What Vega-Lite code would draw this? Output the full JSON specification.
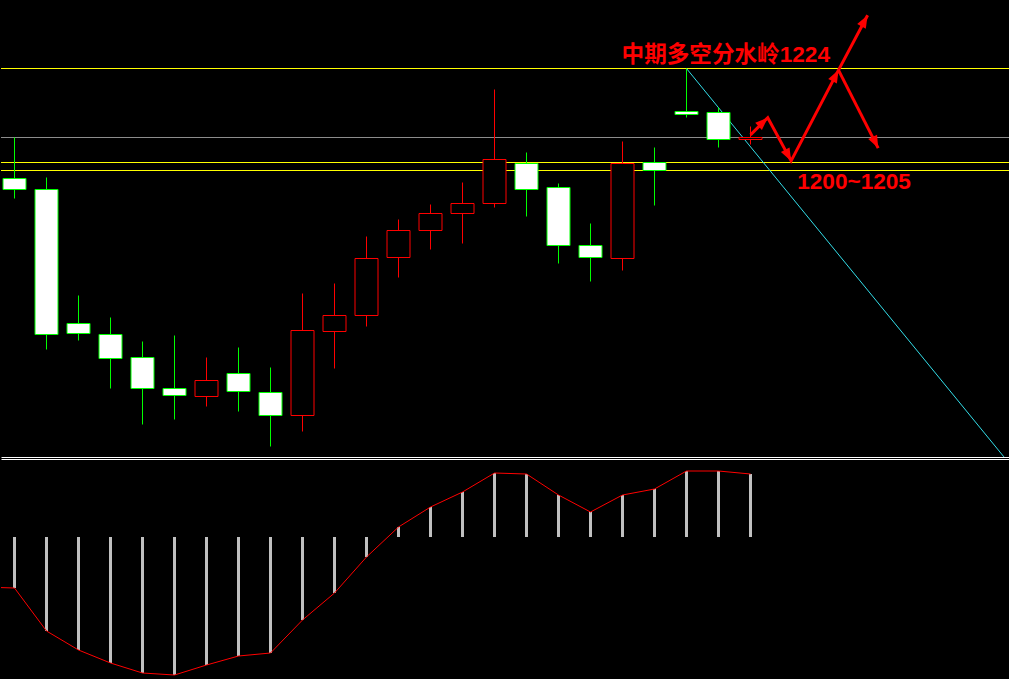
{
  "$schema": "https://vega.github.io/schema/vega-lite/v6.json",
  "background": "#000000",
  "padding": 0,
  "spacing": 2,
  "config": {"view": {"stroke": null}},
  "datasets": {
    "candles": [
      {"t": 0, "open": 1196.5, "high": 1206.75, "low": 1191.5, "close": 1193.75},
      {"t": 1, "open": 1193.75, "high": 1196.75, "low": 1153.75, "close": 1157.5},
      {"t": 2, "open": 1160.25, "high": 1167.25, "low": 1156, "close": 1157.75},
      {"t": 3, "open": 1157.5, "high": 1161.75, "low": 1144, "close": 1151.5},
      {"t": 4, "open": 1151.75, "high": 1155.75, "low": 1135, "close": 1144},
      {"t": 5, "open": 1144, "high": 1157.25, "low": 1136.25, "close": 1142.25},
      {"t": 6, "open": 1142, "high": 1151.75, "low": 1139.5, "close": 1146},
      {"t": 7, "open": 1147.75, "high": 1154.25, "low": 1138.25, "close": 1143.25},
      {"t": 8, "open": 1143, "high": 1149.25, "low": 1129.5, "close": 1137.25},
      {"t": 9, "open": 1137.25, "high": 1167.75, "low": 1133.25, "close": 1158.5},
      {"t": 10, "open": 1158.25, "high": 1170.25, "low": 1149, "close": 1162.25},
      {"t": 11, "open": 1162.25, "high": 1182, "low": 1159.5, "close": 1176.5},
      {"t": 12, "open": 1176.75, "high": 1186.25, "low": 1171.75, "close": 1183.5},
      {"t": 13, "open": 1183.5, "high": 1190, "low": 1178.75, "close": 1187.75},
      {"t": 14, "open": 1187.75, "high": 1195.5, "low": 1180.25, "close": 1190.25},
      {"t": 15, "open": 1190.25, "high": 1218.75, "low": 1189.25, "close": 1201.25},
      {"t": 16, "open": 1200.25, "high": 1203, "low": 1187, "close": 1193.75},
      {"t": 17, "open": 1194.25, "high": 1195.25, "low": 1175.25, "close": 1179.75},
      {"t": 18, "open": 1179.75, "high": 1185.25, "low": 1170.75, "close": 1176.75},
      {"t": 19, "open": 1176.5, "high": 1205.75, "low": 1173.5, "close": 1200.25},
      {"t": 20, "open": 1200.5, "high": 1204.25, "low": 1189.75, "close": 1198.5},
      {"t": 21, "open": 1213.25, "high": 1224, "low": 1211.75, "close": 1212.5},
      {"t": 22, "open": 1213, "high": 1214.25, "low": 1204.25, "close": 1206.25},
      {"t": 23, "open": 1206.25, "high": 1209.5, "low": 1205, "close": 1206.75}
    ],
    "levels": [
      {"price": 1224, "kind": "watershed"},
      {"price": 1206.75, "kind": "last"},
      {"price": 1200.5, "kind": "support"},
      {"price": 1198.5, "kind": "support"}
    ],
    "trend": [
      {"t": 21, "price": 1224},
      {"t": 30.92, "price": 1126.9}
    ],
    "arrow": [
      {"path": "main", "seq": 1, "t": 23.0, "price": 1207.4},
      {"path": "main", "seq": 2, "t": 23.54, "price": 1211.7},
      {"path": "main", "seq": 3, "t": 24.27, "price": 1200.9},
      {"path": "main", "seq": 4, "t": 25.75, "price": 1223.6},
      {"path": "main", "seq": 5, "t": 26.66, "price": 1237.3},
      {"path": "branch", "seq": 1, "t": 25.75, "price": 1223.6},
      {"path": "branch", "seq": 2, "t": 26.99, "price": 1204.1}
    ],
    "heads": [
      {"head": "h1", "t": 23.54, "price": 1211.7},
      {"head": "h2", "t": 24.27, "price": 1200.9},
      {"head": "h5", "t": 25.75, "price": 1223.6},
      {"head": "h3", "t": 26.66, "price": 1237.3},
      {"head": "h4", "t": 26.99, "price": 1204.1}
    ],
    "labels": [
      {"t": 18.97, "price": 1227.5, "text": "中期多空分水岭1224"},
      {"t": 24.46, "price": 1195.6, "text": "1200~1205"}
    ],
    "macd": [
      {"t": -1, "v": -25},
      {"t": 0, "v": -25.5},
      {"t": 1, "v": -47},
      {"t": 2, "v": -56.5},
      {"t": 3, "v": -63},
      {"t": 4, "v": -68},
      {"t": 5, "v": -69},
      {"t": 6, "v": -64},
      {"t": 7, "v": -59.5},
      {"t": 8, "v": -58},
      {"t": 9, "v": -41.5},
      {"t": 10, "v": -28},
      {"t": 11, "v": -10},
      {"t": 12, "v": 5},
      {"t": 13, "v": 15},
      {"t": 14, "v": 22.5},
      {"t": 15, "v": 32},
      {"t": 16, "v": 31.5},
      {"t": 17, "v": 21},
      {"t": 18, "v": 12.5},
      {"t": 19, "v": 21},
      {"t": 20, "v": 24},
      {"t": 21, "v": 33},
      {"t": 22, "v": 33},
      {"t": 23, "v": 31.5}
    ]
  },
  "vconcat": [
    {
      "width": 1009,
      "height": 457,
      "layer": [
        {
          "data": {"name": "levels"},
          "mark": {"type": "rule", "strokeWidth": 1},
          "encoding": {
            "y": {"field": "price", "type": "quantitative", "scale": {"domain": [1126.875, 1241.125], "nice": false, "zero": false}, "axis": null},
            "stroke": {"field": "kind", "type": "nominal", "scale": {"domain": ["watershed", "support", "last"], "range": ["#ffff00", "#ffff00", "#8c8c8c"]}, "legend": null}
          }
        },
        {
          "data": {"name": "trend"},
          "mark": {"type": "line", "stroke": "#33dde8", "strokeWidth": 1, "clip": true},
          "encoding": {
            "x": {"field": "t", "type": "quantitative", "scale": {"domain": [-0.421875, 31.109375], "nice": false, "zero": false, "padding": 0}, "axis": {"orient": "bottom", "domainColor": "#ffffff", "domainWidth": 1, "ticks": false, "labels": false, "grid": false, "title": null}},
            "y": {"field": "price", "type": "quantitative", "axis": null}
          }
        },
        {
          "data": {"name": "candles"},
          "mark": {"type": "rule", "strokeWidth": 1, "clip": true},
          "encoding": {
            "x": {"field": "t", "type": "quantitative"},
            "y": {"field": "low", "type": "quantitative"},
            "y2": {"field": "high"},
            "stroke": {"condition": {"test": "datum.close > datum.open", "value": "#ff0000"}, "value": "#00ff00"}
          }
        },
        {
          "data": {"name": "candles"},
          "mark": {"type": "bar", "size": 23, "strokeWidth": 1, "clip": true},
          "encoding": {
            "x": {"field": "t", "type": "quantitative"},
            "y": {"field": "open", "type": "quantitative"},
            "y2": {"field": "close"},
            "fill": {"condition": {"test": "datum.close > datum.open", "value": "#000000"}, "value": "#ffffff"},
            "stroke": {"condition": {"test": "datum.close > datum.open", "value": "#ff0000"}, "value": "#00ff00"}
          }
        },
        {
          "data": {"name": "arrow"},
          "mark": {"type": "line", "stroke": "#ff0000", "strokeWidth": 3, "clip": true},
          "encoding": {
            "x": {"field": "t", "type": "quantitative"},
            "y": {"field": "price", "type": "quantitative"},
            "detail": {"field": "path", "type": "nominal"},
            "order": {"field": "seq", "type": "quantitative"}
          }
        },
        {
          "data": {"name": "heads"},
          "transform": [{"filter": "datum.head === 'h1'"}],
          "mark": {"type": "point", "shape": "M0,0L0.7,1.8L-0.7,1.8Z", "size": 196, "filled": true, "opacity": 1, "color": "#ff0000", "angle": 47},
          "encoding": {
            "x": {"field": "t", "type": "quantitative"},
            "y": {"field": "price", "type": "quantitative"}
          }
        },
        {
          "data": {"name": "heads"},
          "transform": [{"filter": "datum.head === 'h2'"}],
          "mark": {"type": "point", "shape": "M0,0L0.7,1.8L-0.7,1.8Z", "size": 196, "filled": true, "opacity": 1, "color": "#ff0000", "angle": 152},
          "encoding": {
            "x": {"field": "t", "type": "quantitative"},
            "y": {"field": "price", "type": "quantitative"}
          }
        },
        {
          "data": {"name": "heads"},
          "transform": [{"filter": "datum.head === 'h5'"}],
          "mark": {"type": "point", "shape": "M0,0L0.7,1.8L-0.7,1.8Z", "size": 196, "filled": true, "opacity": 1, "color": "#ff0000", "angle": 28},
          "encoding": {
            "x": {"field": "t", "type": "quantitative"},
            "y": {"field": "price", "type": "quantitative"}
          }
        },
        {
          "data": {"name": "heads"},
          "transform": [{"filter": "datum.head === 'h3'"}],
          "mark": {"type": "point", "shape": "M0,0L0.7,1.8L-0.7,1.8Z", "size": 196, "filled": true, "opacity": 1, "color": "#ff0000", "angle": 29},
          "encoding": {
            "x": {"field": "t", "type": "quantitative"},
            "y": {"field": "price", "type": "quantitative"}
          }
        },
        {
          "data": {"name": "heads"},
          "transform": [{"filter": "datum.head === 'h4'"}],
          "mark": {"type": "point", "shape": "M0,0L0.7,1.8L-0.7,1.8Z", "size": 196, "filled": true, "opacity": 1, "color": "#ff0000", "angle": 154},
          "encoding": {
            "x": {"field": "t", "type": "quantitative"},
            "y": {"field": "price", "type": "quantitative"}
          }
        },
        {
          "data": {"name": "labels"},
          "mark": {"type": "text", "align": "left", "baseline": "middle", "font": "Liberation Sans, Noto Sans CJK SC", "fontSize": 22.6, "fontWeight": "bold", "color": "#ff0000"},
          "encoding": {
            "x": {"field": "t", "type": "quantitative"},
            "y": {"field": "price", "type": "quantitative"},
            "text": {"field": "text", "type": "nominal"}
          }
        }
      ]
    },
    {
      "width": 1009,
      "height": 220,
      "data": {"name": "macd"},
      "layer": [
        {
          "mark": {"type": "bar", "size": 3, "color": "#c0c0c0", "clip": true},
          "encoding": {
            "x": {"field": "t", "type": "quantitative", "scale": {"domain": [-0.421875, 31.109375], "nice": false, "zero": false, "padding": 0}, "axis": {"orient": "top", "domainColor": "#ffffff", "domainWidth": 1, "ticks": false, "labels": false, "grid": false, "title": null}},
            "y": {"field": "v", "type": "quantitative", "scale": {"domain": [-71, 39], "nice": false, "zero": false}, "axis": null},
            "y2": {"datum": 0}
          }
        },
        {
          "mark": {"type": "line", "color": "#ff0000", "strokeWidth": 1, "clip": true},
          "encoding": {
            "x": {"field": "t", "type": "quantitative"},
            "y": {"field": "v", "type": "quantitative"}
          }
        }
      ]
    }
  ]
}
